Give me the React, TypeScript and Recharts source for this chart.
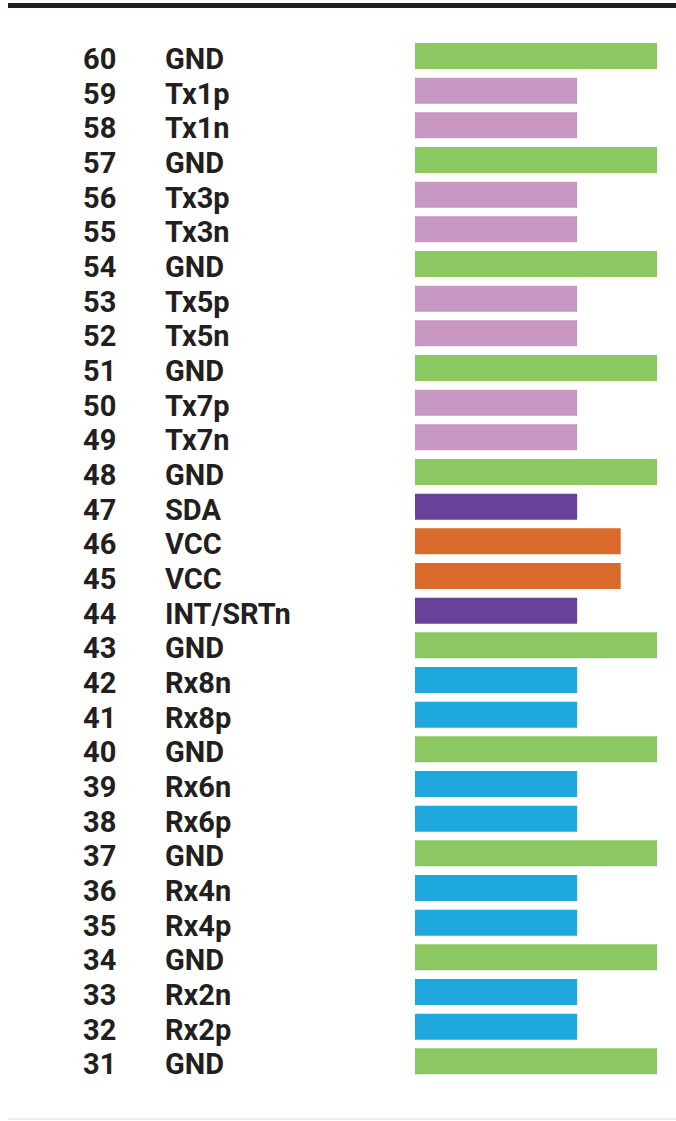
import React from 'react';
import { BarChart, Bar, XAxis, YAxis, Cell } from 'recharts';

// pin numbers, top to bottom
const pins = [60, 59, 58, 57, 56, 55, 54, 53, 52, 51, 50, 49, 48, 47, 46, 45, 44, 43, 42, 41, 40, 39, 38, 37, 36, 35, 34, 33, 32, 31];

const signals = [
  'GND', 'Tx1p', 'Tx1n', 'GND', 'Tx3p', 'Tx3n', 'GND', 'Tx5p', 'Tx5n', 'GND',
  'Tx7p', 'Tx7n', 'GND', 'SDA', 'VCC', 'VCC', 'INT/SRTn', 'GND', 'Rx8n', 'Rx8p',
  'GND', 'Rx6n', 'Rx6p', 'GND', 'Rx4n', 'Rx4p', 'GND', 'Rx2n', 'Rx2p', 'GND',
];

// bar length per pin (relative)
const lengths = [
  100, 67, 67, 100, 67, 67, 100, 67, 67, 100,
  67, 67, 100, 67, 85, 85, 67, 100, 67, 67,
  100, 67, 67, 100, 67, 67, 100, 67, 67, 100,
];

const kinds = [
  'gnd', 'tx', 'tx', 'gnd', 'tx', 'tx', 'gnd', 'tx', 'tx', 'gnd',
  'tx', 'tx', 'gnd', 'ctrl', 'pwr', 'pwr', 'ctrl', 'gnd', 'rx', 'rx',
  'gnd', 'rx', 'rx', 'gnd', 'rx', 'rx', 'gnd', 'rx', 'rx', 'gnd',
];

const kindColors: Record<string, string> = {
  gnd: '#8bc862',
  tx: '#c897c4',
  ctrl: '#684299',
  pwr: '#da6a2c',
  rx: '#1ea8de',
};

const data = pins.map((pin, i) => ({
  key: String(pin),
  pin,
  name: signals[i],
  value: lengths[i],
  kind: kinds[i],
}));

const FONT = 'Roboto, "DejaVu Sans", sans-serif';
const INK = '#231f20';

const PinTick = (props: any) => {
  const { y, payload } = props;
  const row = data.find(d => d.key === payload.value);
  return (
    <g>
      <text x={83} y={y + 12.5} fill={INK} fontFamily={FONT} fontWeight={700} fontSize={29}>
        {row?.pin}
      </text>
      <text x={165} y={y + 12.5} fill={INK} fontFamily={FONT} fontWeight={700} fontSize={29}>
        {row?.name}
      </text>
    </g>
  );
};

export default function App() {
  return (
    <div style={{ position: 'absolute', left: 0, top: 0, width: 676, height: 1121, background: '#fff', overflow: 'hidden' }}>
      <div style={{ position: 'absolute', left: 8, top: 3, width: 668, height: 5, background: INK }} />
      <div style={{ position: 'absolute', left: 8, top: 1118, width: 668, height: 2, background: '#ececec' }} />
      <BarChart
        layout="vertical"
        width={676}
        height={1121}
        data={data}
        margin={{ top: 39, right: 19, bottom: 42, left: 0 }}
        barCategoryGap={0}
      >
        <XAxis type="number" domain={[0, 100]} hide />
        <YAxis
          type="category"
          dataKey="key"
          width={415}
          axisLine={false}
          tickLine={false}
          interval={0}
          tick={<PinTick />}
        />
        <Bar dataKey="value" barSize={26} isAnimationActive={false}>
          {data.map((d, i) => (
            <Cell key={`c-${i}`} fill={kindColors[d.kind]} />
          ))}
        </Bar>
      </BarChart>
    </div>
  );
}
